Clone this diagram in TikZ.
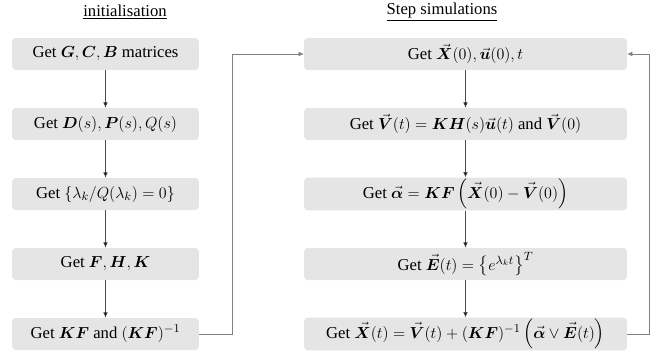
\documentclass[tikz,border=0pt]{standalone}
\usepackage{amsmath}
\usepackage{amssymb}
\usepackage{bm}
\usepackage{fontspec}
\setmainfont{Liberation Serif}
\usetikzlibrary{arrows.meta,positioning}

\begin{document}
\begin{tikzpicture}[x=0.75pt, y=-0.75pt, node distance=52.5pt, on grid,
    font=\fontsize{12.5}{14}\selectfont,
    box/.style={rectangle, rounded corners=2.5pt, fill=black!10, minimum height=24pt, inner sep=1pt},
    lbox/.style={box, minimum width=140pt},
    rbox/.style={box, minimum width=242pt},
    flow/.style={draw=black!70, line width=0.5pt, -{Latex[length=4pt,width=3.5pt]}}]
   \useasboundingbox (0,0) rectangle (664,361);
   % titles
   \node (tl) at (125,12) {\underline{initialisation}};
   \node (tr) at (442,12) {\underline{Step simulations}};
   % initialisation
   \node[lbox] (a1) at (105.5,54) {Get $\bm{G},\bm{C},\bm{B}$ matrices};
   \node[lbox, below=of a1] (a2) {Get $\bm{D}(s),\bm{P}(s),Q(s)$};
   \node[lbox, below=of a2] (a3) {Get $\{\lambda_k/Q(\lambda_k)=0\}$};
   \node[lbox, below=of a3] (a4) {Get $\bm{F},\bm{H},\bm{K}$};
   \node[lbox, below=of a4] (a5) {Get $\bm{KF}$ and $(\bm{KF})^{-1}$};
   % step simulations
   \node[rbox] (b1) at (465.5,54) {Get $\vec{\bm{X}}(0),\vec{\bm{u}}(0),t$};
   \node[rbox, below=of b1] (b2) {Get $\vec{\bm{V}}(t)=\bm{KH}(s)\vec{\bm{u}}(t)$ and $\vec{\bm{V}}(0)$};
   \node[rbox, below=of b2] (b3) {Get $\vec{\bm{\alpha}}=\bm{KF}\left(\vec{\bm{X}}(0)-\vec{\bm{V}}(0)\right)$};
   \node[rbox, below=of b3] (b4) {Get $\vec{\bm{E}}(t)=\left\{e^{\lambda_k t}\right\}^T$};
   \node[rbox, below=of b4] (b5) {Get $\vec{\bm{X}}(t)=\vec{\bm{V}}(t)+(\bm{KF})^{-1}\left(\vec{\bm{\alpha}}\vee\vec{\bm{E}}(t)\right)$};
   \coordinate (c1) at (232,0);
   \coordinate (c2) at (649,0);

  \path[flow]
    (a1) edge (a2)
    (a2) edge (a3)
    (a3) edge (a4)
    (a4) edge (a5)
    (b1) edge (b2)
    (b2) edge (b3)
    (b3) edge (b4)
    (b4) edge (b5);
  \draw[flow, draw=black!50] (a5.east) -- (a5.east -| c1) |- (b1.west);
  \draw[flow, draw=black!50] (b5.east) -- (b5.east -| c2) |- (b1.east);
\end{tikzpicture}
\end{document}
